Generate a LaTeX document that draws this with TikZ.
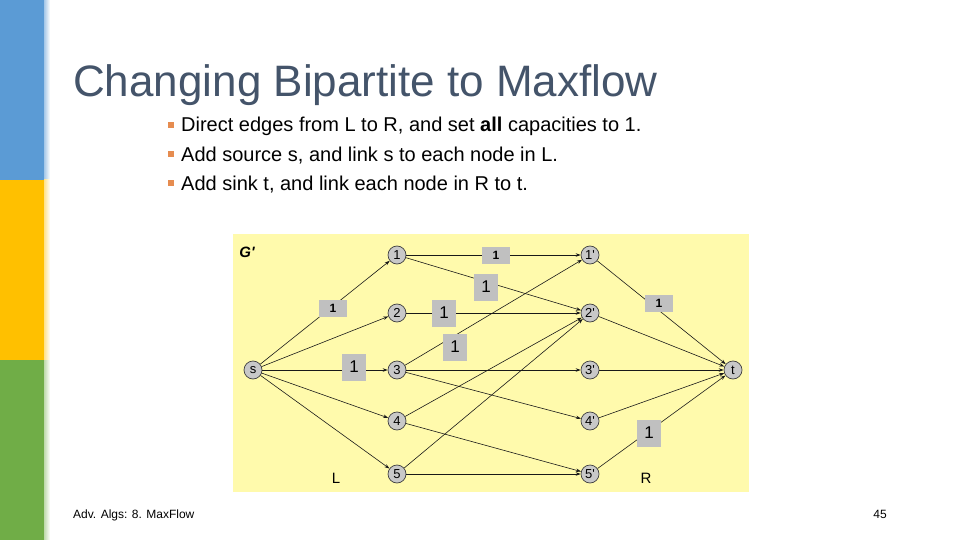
\documentclass[tikz,border=0pt]{standalone}
\usepackage{fontspec}
\setmainfont{Liberation Sans}
\usetikzlibrary{arrows.meta}
\definecolor{barblue}{RGB}{91,155,213}
\definecolor{baryellow}{RGB}{255,192,0}
\definecolor{bargreen}{RGB}{112,173,71}
\definecolor{titlecol}{RGB}{68,84,106}
\definecolor{bulletcol}{RGB}{230,140,80}
\definecolor{panel}{RGB}{255,250,172}
\definecolor{capgray}{RGB}{192,192,192}
\definecolor{vertfill}{RGB}{200,200,200}
\newcommand{\pr}{\textquotesingle}
\tikzset{
  vert/.style={circle, draw=black!75, line width=0.7pt, fill=vertfill, minimum size=18pt, inner sep=0pt, font=\fontsize{13}{13}\selectfont},
  edge/.style={-{Stealth[length=5pt,width=3.5pt]}, line width=0.6pt, black!90},
  capbig/.style={fill=capgray, minimum width=24pt, minimum height=27pt, inner sep=0pt, font=\fontsize{17}{17}\selectfont},
  capsmall/.style={fill=capgray, minimum width=28pt, minimum height=17pt, inner sep=0pt, font=\fontsize{12}{12}\selectfont\bfseries},
  bullettext/.style={anchor=base west, inner sep=0pt, font=\fontsize{20}{22}\selectfont},
  bulletsq/.style={fill=bulletcol, minimum size=6pt, inner sep=0pt},
}
\begin{document}
\begin{tikzpicture}[x=1pt,y=-1pt]
\useasboundingbox (0,0) rectangle (960,540);
\fill[white] (0,0) rectangle (960,540);
% left bar
\fill[barblue] (0,0) rectangle (44,180);
\fill[baryellow] (0,180) rectangle (44,360);
\fill[bargreen] (0,360) rectangle (44,540);
\shade[left color=barblue!55, right color=white] (44,0) rectangle (50,180);
\shade[left color=baryellow!45, right color=white] (44,180) rectangle (50,360);
\shade[left color=bargreen!45, right color=white] (44,360) rectangle (50,540);

% title
\node[anchor=base west, inner sep=0pt, text=titlecol, font=\fontsize{44}{50}\selectfont] (title) at (73,97) {Changing Bipartite to Maxflow};

% bullets
\node[bulletsq] (b1) at (171,125) {};
\node[bulletsq] (b2) at (171,154) {};
\node[bulletsq] (b3) at (171,183) {};
\node[bullettext] (t1) at (181,132) {Direct edges from L to R, and set \textbf{all} capacities to 1.};
\node[bullettext] (t2) at (181,161) {Add source s, and link s to each node in L.};
\node[bullettext] (t3) at (181,190) {Add sink t, and link each node in R to t.};

% panel
\fill[panel] (233,234) rectangle (749,492);
\node[anchor=center, font=\fontsize{15}{15}\selectfont\bfseries\itshape] (gp) at (247,252) {G\pr};
\node[font=\fontsize{15}{15}\selectfont] (Llab) at (336,478) {L};
\node[font=\fontsize{15}{15}\selectfont] (Rlab) at (646,478) {R};

% vertices
\node[vert] (s) at (253,370) {s};
\node[vert] (t) at (733,370) {t};
\node[vert] (l1) at (397,255) {1};
\node[vert] (l2) at (397,313) {2};
\node[vert] (l3) at (397,370) {3};
\node[vert] (l4) at (397,421) {4};
\node[vert] (l5) at (397,474) {5};
\node[vert] (r1) at (590,255) {1\pr};
\node[vert] (r2) at (590,313) {2\pr};
\node[vert] (r3) at (590,370) {3\pr};
\node[vert] (r4) at (590,421) {4\pr};
\node[vert] (r5) at (590,474) {5\pr};

% edges
\foreach \v in {l1,l2,l3,l4,l5} \draw[edge] (s) -- (\v);
\foreach \v in {r1,r2,r3,r4,r5} \draw[edge] (\v) -- (t);
\draw[edge] (l1) -- (r1);
\draw[edge] (l1) -- (r2);
\draw[edge] (l2) -- (r2);
\draw[edge] (l3) -- (r1);
\draw[edge] (l3) -- (r3);
\draw[edge] (l3) -- (r4);
\draw[edge] (l4) -- (r2);
\draw[edge] (l4) -- (r5);
\draw[edge] (l5) -- (r2);
\draw[edge] (l5) -- (r5);

% capacity labels
\node[capsmall] (c1) at (333,308) {1};
\node[capbig] (c2) at (354,367) {1};
\node[capsmall] (c3) at (496,255) {1};
\node[capbig] (c4) at (486,287) {1};
\node[capbig] (c5) at (444,313) {1};
\node[capbig] (c6) at (455,347) {1};
\node[capsmall] (c7) at (659,303) {1};
\node[capbig] (c8) at (649,433) {1};

% footer
\node[anchor=base west, inner sep=0pt, font=\fontsize{12}{13}\selectfont] (foot) at (73,518) {Adv. Algs: 8. MaxFlow};
\node[anchor=base, inner sep=0pt, font=\fontsize{12}{13}\selectfont] (pg) at (880,518) {45};
\end{tikzpicture}
\end{document}
